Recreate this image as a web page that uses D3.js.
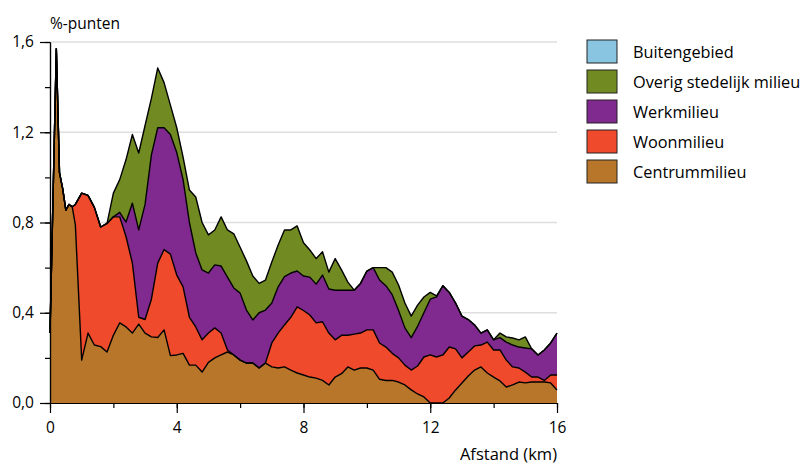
<!--
Gestapeld vlakdiagram: %-punten naar afstand (km)
-->
<body style="margin:0;background:#fff">
<script src="https://d3js.org/d3.v7.min.js"></script>
<script>
// afstand in km
var afstand = [0, 0.2, 0.3, 0.4, 0.5, 0.6, 0.7, 0.8,
  1.0, 1.2, 1.4, 1.6, 1.8, 2.0, 2.2, 2.4, 2.6, 2.8, 3.0, 3.2, 3.4, 3.6, 3.8,
  4.0, 4.2, 4.4, 4.6, 4.8, 5.0, 5.2, 5.4, 5.6, 5.8, 6.0, 6.2, 6.4, 6.6, 6.8,
  7.0, 7.2, 7.4, 7.6, 7.8, 8.0, 8.2, 8.4, 8.6, 8.8, 9.0, 9.2, 9.4, 9.6, 9.8,
  10.0, 10.2, 10.4, 10.6, 10.8, 11.0, 11.2, 11.4, 11.6, 11.8, 12.0, 12.2, 12.4, 12.6, 12.8,
  13.0, 13.2, 13.4, 13.6, 13.8, 14.0, 14.2, 14.4, 14.6, 14.8, 15.0, 15.2, 15.4, 15.6, 15.8, 16.0];

var centrummilieu = [0.31, 1.57, 1.02, 0.95, 0.855, 0.88, 0.87, 0.79,
  0.19, 0.31, 0.257, 0.25, 0.226, 0.30, 0.355, 0.337, 0.31, 0.35, 0.31, 0.293, 0.29, 0.324, 0.21,
  0.213, 0.22, 0.168, 0.168, 0.137, 0.18, 0.20, 0.213, 0.226, 0.213, 0.19, 0.177, 0.177, 0.155, 0.177,
  0.16, 0.155, 0.16, 0.146, 0.133, 0.124, 0.115, 0.11, 0.10, 0.08, 0.115, 0.13, 0.16, 0.146, 0.155,
  0.155, 0.146, 0.105, 0.10, 0.10, 0.093, 0.08, 0.058, 0.04, 0.027, 0, 0, 0, 0.022, 0.058,
  0.089, 0.12, 0.146, 0.16, 0.133, 0.115, 0.098, 0.071, 0.08, 0.093, 0.089, 0.093, 0.093, 0.093, 0.089, 0.058];

var woonmilieu = [0, 0, 0, 0, 0, 0, 0, 0.09,
  0.74, 0.61, 0.61, 0.53, 0.57, 0.525, 0.47, 0.40, 0.31, 0.03, 0.06, 0.167, 0.33, 0.356, 0.45,
  0.354, 0.295, 0.212, 0.169, 0.143, 0.13, 0.133, 0.097, 0.009, 0, 0, 0, 0, 0, 0,
  0.106, 0.155, 0.186, 0.234, 0.293, 0.286, 0.275, 0.245, 0.26, 0.23, 0.165, 0.17, 0.14, 0.159, 0.155,
  0.169, 0.178, 0.161, 0.148, 0.12, 0.107, 0.088, 0.088, 0.124, 0.177, 0.213, 0.204, 0.213, 0.226, 0.182,
  0.111, 0.106, 0.107, 0.097, 0.137, 0.12, 0.137, 0.119, 0.08, 0.062, 0.048, 0.022, 0.022, 0.007, 0.035, 0.066];

var werkmilieu = [0, 0, 0, 0, 0, 0, 0, 0,
  0, 0, 0, 0, 0, 0, 0.02, 0.065, 0.266, 0.387, 0.51, 0.64, 0.60, 0.54, 0.53,
  0.543, 0.475, 0.42, 0.328, 0.31, 0.266, 0.279, 0.297, 0.323, 0.297, 0.297, 0.235, 0.191, 0.245, 0.235,
  0.177, 0.205, 0.214, 0.196, 0.159, 0.153, 0.168, 0.172, 0.207, 0.195, 0.22, 0.20, 0.20, 0.195, 0.22,
  0.261, 0.276, 0.279, 0.272, 0.26, 0.21, 0.165, 0.144, 0.176, 0.196, 0.247, 0.266, 0.307, 0.242, 0.203,
  0.185, 0.144, 0.093, 0.053, 0.054, 0.045, 0.055, 0.08, 0.097, 0.093, 0.107, 0.125, 0.098, 0.135, 0.142, 0.186];

var overigStedelijk = [0, 0, 0, 0, 0, 0, 0, 0,
  0, 0, 0, 0, 0, 0.105, 0.145, 0.277, 0.304, 0.341, 0.35, 0.25, 0.265, 0.20, 0.13,
  0.11, 0.10, 0.144, 0.248, 0.21, 0.169, 0.155, 0.218, 0.209, 0.24, 0.203, 0.218, 0.195, 0.13, 0.133,
  0.182, 0.185, 0.207, 0.191, 0.20, 0.147, 0.12, 0.113, 0.103, 0.075, 0.14, 0.09, 0.036, 0, 0,
  0, 0, 0.055, 0.08, 0.10, 0.113, 0.11, 0.095, 0.094, 0.07, 0.03, 0.005, 0, 0, 0,
  0, 0, 0, 0, 0, 0, 0.02, 0.023, 0.031, 0.032, 0.049, 0, 0, 0, 0, 0];

var buitengebied = afstand.map(function() { return 0; });

var series = ["Centrummilieu", "Woonmilieu", "Werkmilieu", "Overig stedelijk milieu", "Buitengebied"];
var kleuren = ["#b8762b", "#ef4a2c", "#80298e", "#718b22", "#89c4e1"];
var yTicks = [0, 0.4, 0.8, 1.2, 1.6];
var xTicks = [0, 4, 8, 12, 16];

var rows = afstand.map(function(a, i) {
  return {
    afstand: a,
    "Centrummilieu": centrummilieu[i],
    "Woonmilieu": woonmilieu[i],
    "Werkmilieu": werkmilieu[i],
    "Overig stedelijk milieu": overigStedelijk[i],
    "Buitengebied": buitengebied[i]
  };
});

var width = 808, height = 466;
var svg = d3.select("body").append("svg")
  .attr("width", width)
  .attr("height", height)
  .style("font-family", "'Open Sans', sans-serif")
  .style("display", "block");

var x = d3.scaleLinear().domain([0, 16]).range([50, 557]);
var y = d3.scaleLinear().domain([0, 1.6]).range([403, 42]);

var nl = d3.formatLocale({decimal: ",", thousands: ".", grouping: [3], currency: ["€", ""]});
var fmt = nl.format(".1f");

// gridlijnen
svg.append("g").selectAll("line")
  .data(yTicks.slice(1))
  .enter().append("line")
  .attr("x1", x(0)).attr("x2", x(16))
  .attr("y1", function(d) { return y(d); })
  .attr("y2", function(d) { return y(d); })
  .attr("stroke", "#dedede")
  .attr("stroke-width", 1.5);

var stack = d3.stack().keys(series);
var layers = stack(rows);

var area = d3.area()
  .x(function(d) { return x(d.data.afstand); })
  .y0(function(d) { return y(d[0]); })
  .y1(function(d) { return y(d[1]); });

var topLine = d3.line()
  .x(function(d) { return x(d.data.afstand); })
  .y(function(d) { return y(d[1]); });

svg.append("g").selectAll("path")
  .data(layers)
  .enter().append("path")
  .attr("d", area)
  .attr("fill", function(d, i) { return kleuren[i]; });

svg.append("g").selectAll("path")
  .data(layers.slice(0, 4))
  .enter().append("path")
  .attr("d", topLine)
  .attr("fill", "none")
  .attr("stroke", "#000")
  .attr("stroke-width", 1.4)
  .attr("stroke-linejoin", "round");

// assen
svg.append("g")
  .attr("transform", "translate(50,0)")
  .call(d3.axisLeft(y).tickValues(d3.range(0, 1.61, 0.2)).tickSize(5).tickFormat("").tickSizeOuter(0));
svg.append("g")
  .attr("transform", "translate(50,0)")
  .call(d3.axisLeft(y).tickValues(yTicks).tickSize(10).tickPadding(6).tickFormat(fmt).tickSizeOuter(0));

svg.append("g")
  .attr("transform", "translate(0,403)")
  .call(d3.axisBottom(x).tickValues(d3.range(0, 16.1, 2)).tickSize(5).tickFormat("").tickSizeOuter(0));
svg.append("g")
  .attr("transform", "translate(0,403)")
  .call(d3.axisBottom(x).tickValues(xTicks).tickSize(10).tickPadding(9).tickFormat(function(d) { return d; }).tickSizeOuter(0));

svg.selectAll(".domain, .tick line").attr("stroke", "#000").attr("stroke-width", 1.2);
svg.selectAll(".tick text").attr("fill", "#000").style("font-size", "15.5px").style("font-family", "'Open Sans', sans-serif");

svg.append("text")
  .attr("x", 50).attr("y", 29)
  .style("font-size", "15.5px")
  .text("%-punten");

svg.append("text")
  .attr("x", 557).attr("y", 460)
  .attr("text-anchor", "end")
  .style("font-size", "16.5px")
  .text("Afstand (km)");

// legenda
var legend = svg.append("g").attr("transform", "translate(587,40)");
var legendItems = series.slice().reverse();
var legendKleuren = kleuren.slice().reverse();

legendItems.forEach(function(name, i) {
  var g = legend.append("g").attr("transform", "translate(0," + (i * 30) + ")");
  g.append("rect")
    .attr("width", 30).attr("height", 23)
    .attr("fill", legendKleuren[i])
    .attr("stroke", "#222")
    .attr("stroke-width", 1);
  g.append("text")
    .attr("x", 46).attr("y", 12)
    .attr("dominant-baseline", "central")
    .style("font-size", "16.3px")
    .text(name);
});
</script>
<style></style>
</body>
